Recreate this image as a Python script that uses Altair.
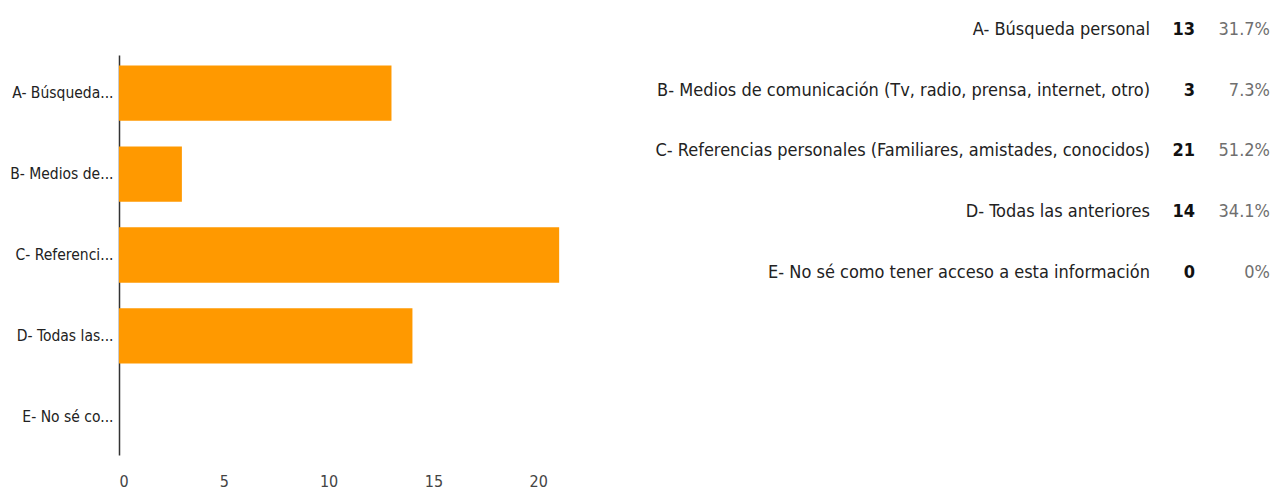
import altair as alt
import pandas as pd

short_labels = ["A- Búsqueda...", "B- Medios de...", "C- Referenci...", "D- Todas las...", "E- No sé co..."]
full_labels = [
    "A- Búsqueda personal",
    "B- Medios de comunicación (Tv, radio, prensa, internet, otro)",
    "C- Referencias personales (Familiares, amistades, conocidos)",
    "D- Todas las anteriores",
    "E- No sé como tener acceso a esta información",
]
counts = [13, 3, 21, 14, 0]
percents = ["31.7%", "7.3%", "51.2%", "34.1%", "0%"]
x_ticks = [0, 5, 10, 15, 20]

FONT = "DejaVu Sans Condensed, Liberation Sans Narrow, sans-serif"

df = pd.DataFrame({
    "short": short_labels,
    "full": full_labels,
    "count": counts,
    "pct": percents,
    "row": list(range(len(full_labels))),
})

bars = alt.Chart(df).mark_bar(color="#ff9900").encode(
    x=alt.X("count:Q", title=None,
            scale=alt.Scale(domain=[0, 25], nice=False),
            axis=alt.Axis(values=x_ticks, grid=False, domain=False, ticks=False,
                          labelFont=FONT, labelFontSize=16, labelColor="#444444",
                          labelPadding=18)),
    y=alt.Y("short:N", title=None, sort=short_labels,
            scale=alt.Scale(paddingInner=0.317, paddingOuter=0.13),
            axis=alt.Axis(grid=False, ticks=False, domain=True, domainColor="#333333",
                          domainWidth=1.5, labelFont=FONT, labelFontSize=15.5,
                          labelColor="#222222", labelPadding=6, labelLimit=0,
                          minExtent=111, maxExtent=111)),
).properties(width=524, height=400)

# table rows: positioned on a linear row scale that extends above the plot top
base = alt.Chart(df).encode(
    y=alt.Y("row:Q", axis=None,
            scale=alt.Scale(domain=[0.4115, 6.996], reverse=True, nice=False, zero=False)),
)
lab = base.mark_text(align="right", baseline="middle", font=FONT, fontSize=18,
                     color="#222222").encode(x=alt.value(507), text="full:N")
cnt = base.mark_text(align="right", baseline="middle", font=FONT, fontSize=18,
                     fontWeight="bold", color="#111111").encode(x=alt.value(552), text="count:Q")
pct = base.mark_text(align="right", baseline="middle", font=FONT, fontSize=18,
                     color="#6f6f6f").encode(x=alt.value(627), text="pct:N")
table = alt.layer(lab, cnt, pct).properties(width=633, height=400)

chart = alt.hconcat(bars, table, spacing=0).properties(
    padding={"top": 13, "left": 0, "right": 0, "bottom": 0},
    background="white",
).configure_view(stroke=None)

chart.save("out.html", embed_options={"renderer": "svg", "actions": False})
